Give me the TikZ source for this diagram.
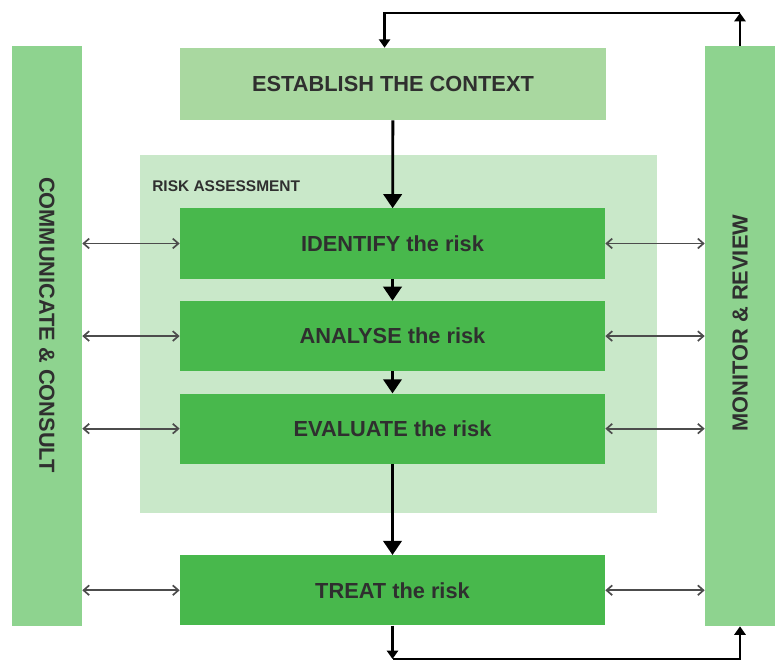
\documentclass[tikz,border=0pt]{standalone}
\usepackage{fontspec}
\setmainfont{Liberation Sans}
\usepackage{tikz}
\usetikzlibrary{positioning,arrows.meta}

\definecolor{barGreen}{HTML}{8ED38F}
\definecolor{contextGreen}{HTML}{A9D8A0}
\definecolor{panelGreen}{HTML}{C9E8C9}
\definecolor{stageGreen}{HTML}{48B84C}
\definecolor{labelGray}{HTML}{2F2F2F}

\begin{document}
\begin{tikzpicture}[
    x=0.025cm, y=-0.025cm,
    node distance=0.55cm,
    bar/.style={rectangle, fill=barGreen, minimum width=1.75cm, minimum height=14.5cm, inner sep=0pt},
    barlabel/.style={font=\bfseries\fontsize{15.5}{18}\selectfont, text=labelGray, inner sep=0pt},
    stage/.style={rectangle, fill=stageGreen, minimum width=10.625cm, minimum height=1.75cm, inner sep=0pt, font=\bfseries\fontsize{15.5}{18}\selectfont, text=labelGray},
    flow/.style={-{Triangle[length=10pt,width=13pt]}, line width=2pt},
    loopline/.style={-{Triangle[length=6pt,width=8pt]}, line width=2pt},
    talk/.style={{Straight Barb[length=4pt,width=7pt]}-{Straight Barb[length=4pt,width=7pt]}, draw=black!70, line width=1.2pt}
]
    \useasboundingbox (0,0) rectangle (776,662);

    % side bars
    \node[bar] (communicate) at (47,336) {};
    \node[bar] (monitor) at (740,336) {};
    \node[barlabel, rotate=-90] (communicatetext) at (47,325) {COMMUNICATE \& CONSULT};
    \node[barlabel, rotate=90] (monitortext) at (740,323) {MONITOR \& REVIEW};

    % risk assessment panel
    \node[rectangle, fill=panelGreen, minimum width=12.925cm, minimum height=8.95cm] (panel) at (398.5,334) {};
    \node[anchor=west, inner sep=0pt, font=\bfseries\fontsize{11}{13}\selectfont, text=labelGray] (paneltitle) at (152,186) {RISK ASSESSMENT};

    % stages
    \node[stage, fill=contextGreen, minimum width=10.65cm, minimum height=1.8cm] (context) at (393,84) {ESTABLISH THE CONTEXT};
    \node[stage] (identify) at (392.5,243.5) {IDENTIFY the risk};
    \node[stage, below=of identify] (analyse) {ANALYSE the risk};
    \node[stage, below=of analyse] (evaluate) {EVALUATE the risk};
    \node[stage, below=2.275cm of evaluate] (treat) {TREAT the risk};

    % main flow
    \draw[flow] (context) -- (identify);
    \draw[flow] (identify) -- (analyse);
    \draw[flow] (analyse) -- (evaluate);
    \draw[flow] (evaluate) -- (treat);

    % feedback loops
    \coordinate (topbend) at (740,13);
    \coordinate (botbend) at (740,659);
    \draw[loopline] (monitor.north) -- (topbend);
    \draw[loopline] (topbend) -| ([xshift=-6]context.north);
    \draw[loopline] (treat.south) -- (treat.south |- botbend);
    \draw[loopline] (treat.south |- botbend) -| (monitor.south);

    % communication links
    \foreach \s in {identify, analyse, evaluate, treat} {
        \draw[talk] (communicate.east |- \s) -- (\s.west);
        \draw[talk] (\s.east) -- (monitor.west |- \s);
    }
\end{tikzpicture}
\end{document}
